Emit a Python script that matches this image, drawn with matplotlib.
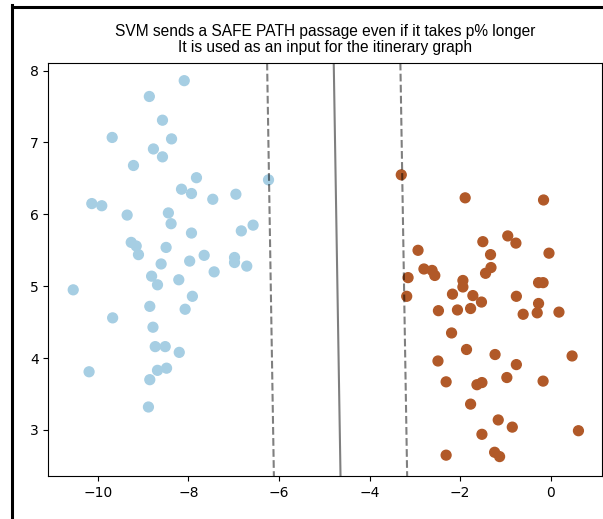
import numpy as np
import matplotlib
matplotlib.use("Agg")
import matplotlib.pyplot as plt
from matplotlib.lines import Line2D

# Class 0 samples (light blue)
x0 = [-8.09, -8.86, -8.57, -9.68, -8.37, -8.77, -8.57, -9.21, -7.82, -6.23,
      -8.15, -7.93, -7.46, -6.95, -10.13, -9.91, -9.35, -8.44, -8.38, -7.93,
      -6.83, -6.57, -9.26, -9.15, -9.10, -8.49, -8.60, -7.97, -7.65, -6.98,
      -6.98, -6.71, -7.43, -8.81, -8.68, -8.21, -10.54, -7.91, -8.85, -8.07,
      -9.67, -8.78, -8.73, -8.51, -8.20, -10.19, -8.68, -8.48, -8.85, -8.88]
y0 = [7.86, 7.64, 7.31, 7.07, 7.05, 6.91, 6.80, 6.68, 6.51, 6.48,
      6.35, 6.29, 6.21, 6.28, 6.15, 6.12, 5.99, 6.02, 5.87, 5.74,
      5.77, 5.85, 5.61, 5.56, 5.44, 5.54, 5.31, 5.35, 5.43, 5.40,
      5.33, 5.28, 5.20, 5.14, 5.02, 5.09, 4.95, 4.86, 4.72, 4.68,
      4.56, 4.43, 4.16, 4.16, 4.08, 3.81, 3.83, 3.86, 3.70, 3.32]

# Class 1 samples (brown)
x1 = [-3.30, -1.89, -0.16, -0.95, -0.77, -1.50, -2.93, -0.04, -1.33, -1.32,
      -1.44, -2.80, -2.62, -2.56, -3.15, -1.94, -1.94, -0.27, -0.17, -2.17,
      -1.72, -3.18, -0.76, -1.53, -0.27, -2.48, -2.06, -1.77, -0.61, -0.30,
      0.18, -2.19, -1.86, -1.23, 0.47, -2.49, -0.76, -2.31, -1.63, -1.52,
      -0.97, -0.17, -1.77, -1.16, -0.85, -1.52, 0.61, -2.31, -1.24, -1.13]
y1 = [6.55, 6.23, 6.20, 5.70, 5.60, 5.62, 5.50, 5.46, 5.44, 5.26,
      5.18, 5.24, 5.22, 5.15, 5.12, 5.08, 4.99, 5.05, 5.05, 4.89,
      4.87, 4.86, 4.86, 4.78, 4.76, 4.66, 4.67, 4.69, 4.61, 4.63,
      4.64, 4.35, 4.12, 4.05, 4.03, 3.96, 3.91, 3.67, 3.63, 3.66,
      3.73, 3.68, 3.36, 3.14, 3.04, 2.94, 2.99, 2.65, 2.69, 2.63]

# Linear SVM decision function: f(x, y) = w[0]*x + w[1]*y + b
w = [0.68, 0.0177]
b = 3.114
levels = [-1, 0, 1]

xlim = (-11.09, 1.13)
ylim = (2.36, 8.11)

W, H = 603, 519
fig = plt.figure(figsize=(W / 100, H / 100), dpi=100)
ax = fig.add_axes([48.3 / W, 1 - 476 / H, (602 - 48.3) / W, (476 - 62.7) / H])

X = np.array(x0 + x1)
Y = np.array(y0 + y1)
labels = np.array([0] * len(x0) + [1] * len(x1))
ax.scatter(X, Y, c=labels, s=50, cmap=plt.cm.Paired, zorder=2)

gx = np.linspace(xlim[0], xlim[1], 60)
gy = np.linspace(ylim[0], ylim[1], 60)
GX, GY = np.meshgrid(gx, gy)
Z = w[0] * GX + w[1] * GY + b
ax.contour(GX, GY, Z, levels=levels, colors="k", alpha=0.5,
           linestyles=["--", "-", "--"], linewidths=1.5)

ax.set_xlim(xlim)
ax.set_ylim(ylim)
ax.set_xticks([-10, -8, -6, -4, -2, 0])
ax.set_yticks([3, 4, 5, 6, 7, 8])

ax.set_title("SVM sends a SAFE PATH passage even if it takes p% longer\n"
             "It is used as an input for the itinerary graph",
             fontsize=11.2, family="Liberation Sans", pad=8, linespacing=1.05)

# Outer frame around the figure
fig.add_artist(Line2D([11.5 / W, 11.5 / W], [-0.1, 1 - 5 / H], color="k",
                      lw=2.2, transform=fig.transFigure))
fig.add_artist(Line2D([11.5 / W, 1.1], [1 - 6.5 / H, 1 - 6.5 / H], color="k",
                      lw=2.2, transform=fig.transFigure))

fig.savefig("out.png", dpi=100)
